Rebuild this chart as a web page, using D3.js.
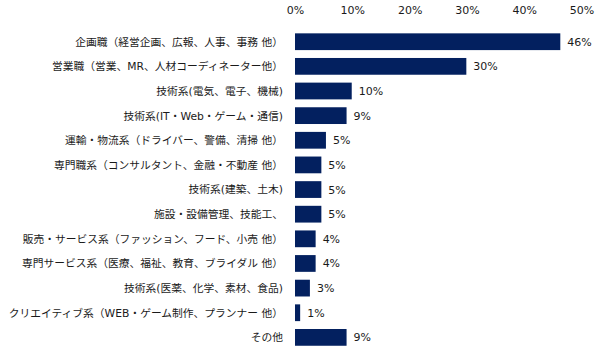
<!DOCTYPE html>
<html><head><meta charset="utf-8">
<script src="https://cdn.jsdelivr.net/npm/d3@7"></script>
<style>
html,body{margin:0;padding:0;background:#fff;}
svg{display:block;}
text{font-family:"DejaVu Sans","Noto Sans CJK JP",sans-serif;fill:#1a1a1a;}
</style></head>
<body>
<svg id="chart" width="607" height="350"></svg>
<script>
const categories = [
  "企画職（経営企画、広報、人事、事務 他）",
  "営業職（営業、MR、人材コーディネーター他）",
  "技術系(電気、電子、機械)",
  "技術系(IT・Web・ゲーム・通信)",
  "運輸・物流系（ドライバー、警備、清掃 他）",
  "専門職系（コンサルタント、金融・不動産 他）",
  "技術系(建築、土木)",
  "施設・設備管理、技能工、",
  "販売・サービス系（ファッション、フード、小売 他）",
  "専門サービス系（医療、福祉、教育、ブライダル 他）",
  "技術系(医薬、化学、素材、食品)",
  "クリエイティブ系（WEB・ゲーム制作、プランナー 他）",
  "その他"
];
const values = [46.3, 29.9, 9.9, 9.0, 5.4, 4.6, 4.6, 4.6, 3.6, 3.6, 2.6, 0.9, 9.0];
const valueLabels = ["46%","30%","10%","9%","5%","5%","5%","5%","4%","4%","3%","1%","9%"];
const tickValues = [0, 10, 20, 30, 40, 50];

const svg = d3.select("#chart");
const x = d3.scaleLinear().domain([0, 50]).range([295, 581.5]);
const y = d3.scaleBand().domain(categories).range([29.4, 349.7]).paddingInner(0.32).paddingOuter(0.16);

// top axis
const ax = svg.append("g").attr("transform","translate(0,17)")
  .call(d3.axisTop(x).tickValues(tickValues).tickSize(0).tickFormat(d => d + "%"));
ax.select(".domain").remove();
ax.selectAll("text").attr("font-size","11px").attr("dy","0").style("font-family","DejaVu Sans, sans-serif").attr("fill","#1a1a1a");

// bars
svg.append("g").selectAll("rect").data(values).join("rect")
  .attr("x", x(0))
  .attr("y", (d,i) => y(categories[i]))
  .attr("width", d => x(d) - x(0))
  .attr("height", y.bandwidth())
  .attr("fill", "#03205f");

// value labels
svg.append("g").selectAll("text").data(values).join("text")
  .attr("x", d => x(d) + 7)
  .attr("y", (d,i) => y(categories[i]) + y.bandwidth()/2)
  .attr("dy","0.36em")
  .attr("font-size","11px")
  .text((d,i) => valueLabels[i]);

// category labels
svg.append("g").selectAll("text").data(categories).join("text")
  .attr("x", 283)
  .attr("y", d => y(d) + y.bandwidth()/2)
  .attr("dy","0.36em")
  .attr("text-anchor","end")
  .attr("font-size","10.75px")
  .text(d => d);
</script>
</body></html>
